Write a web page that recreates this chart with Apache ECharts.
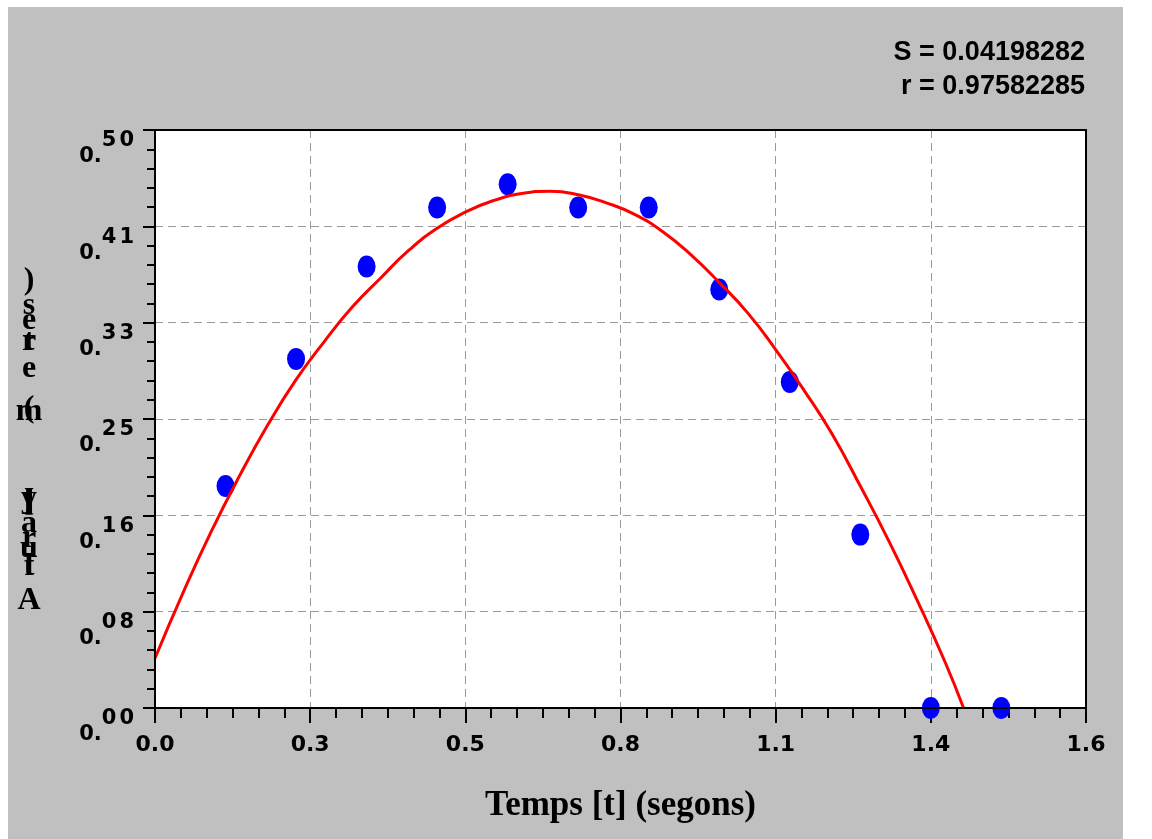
<!DOCTYPE html>
<html>
<head>
<meta charset="utf-8">
<style>
  html, body { margin: 0; padding: 0; background: #ffffff; }
  #chart { width: 1152px; height: 839px; }
</style>
<script src="https://cdn.jsdelivr.net/npm/echarts@6/dist/echarts.min.js"></script>
</head>
<body>
<div id="chart"></div>
<script>
// ---- data ----
const xTickLabels = ['0.0', '0.3', '0.5', '0.8', '1.1', '1.4', '1.6'];
const yTickLabels = ['0.00', '0.08', '0.16', '0.25', '0.33', '0.41', '0.50'];

const measTime   = [0.125, 0.25, 0.375, 0.5, 0.625, 0.75, 0.875, 1.0, 1.125, 1.25, 1.375, 1.5];
const measHeight = [0.192, 0.302, 0.382, 0.433, 0.453, 0.433, 0.433, 0.362, 0.282, 0.150, 0.0, 0.0];

const fitTime   = [0.0, 0.05, 0.10, 0.15, 0.20, 0.25, 0.30, 0.35, 0.40, 0.45, 0.50, 0.55, 0.60, 0.65, 0.70, 0.75, 0.80, 0.85, 0.90, 0.95, 1.00, 1.05, 1.10, 1.15, 1.20, 1.25, 1.30, 1.35, 1.40, 1.433];
const fitHeight = [0.043, 0.100, 0.153, 0.201, 0.245, 0.284, 0.317, 0.347, 0.372, 0.396, 0.415, 0.429, 0.439, 0.445, 0.447, 0.444, 0.437, 0.427, 0.412, 0.392, 0.368, 0.342, 0.310, 0.275, 0.237, 0.192, 0.145, 0.094, 0.040, 0.0];

const statLines = ['S = 0.04198282', 'r = 0.97582285'];
const xTitle = 'Temps [t] (segons)';
const yTitle = 'Altura [y] (metres)';

// ---- layout / style ----
const X_MAX = 1.65, X_STEP = X_MAX / 6;
const Y_MAX = 0.5,  Y_STEP = Y_MAX / 6;
const GRID = { left: 155, right: 66, top: 130, bottom: 131 };
const W = 1152, H = 839;
// stacked (upright) characters of the y title, top to bottom
const yTitleCharsTopDown = yTitle.split('').filter(c => c !== ' ').reverse();
const yTitleCharY = [281, 306, 321, 342, 342, 369, 412, 409, 502, 499, 502, 524, 539, 549, 567, 567, 601];

const chart = echarts.init(document.getElementById('chart'), null, { renderer: 'canvas' });

const FONT_TICK = 'DejaVu Sans';

const graphics = [
  { type: 'rect', z: -10, silent: true,
    shape: { x: 8, y: 7, width: 1115, height: 832 },
    style: { fill: '#c0c0c0' } },
  // plot frame drawn above the dashed grid lines
  { type: 'rect', z: 5, silent: true,
    shape: { x: GRID.left, y: GRID.top,
             width: W - GRID.left - GRID.right, height: H - GRID.top - GRID.bottom },
    style: { fill: null, stroke: '#000', lineWidth: 2 } }
];
statLines.forEach((t, i) => {
  graphics.push({
    type: 'text', z: 10, silent: true,
    x: 1085, y: 53 + i * 34,
    style: { text: t, align: 'right', verticalAlign: 'middle',
             font: 'bold 27px "Liberation Sans", Arial, sans-serif', fill: '#000' }
  });
});
yTitleCharsTopDown.forEach((c, i) => {
  graphics.push({
    type: 'text', z: 10, silent: true,
    x: 29, y: yTitleCharY[i],
    style: { text: c, align: 'center', verticalAlign: 'middle',
             font: 'bold 32px "Liberation Serif", "Times New Roman", serif', fill: '#000' }
  });
});

const richTok = (extra) => Object.assign({
  fontFamily: FONT_TICK, fontWeight: 'bold', fontSize: 21, color: '#000', lineHeight: 16
}, extra);

const option = {
  backgroundColor: '#ffffff',
  animation: false,
  grid: Object.assign({ show: true, backgroundColor: '#ffffff', borderColor: '#000', borderWidth: 2 }, GRID),
  xAxis: {
    type: 'value', min: 0, max: X_MAX, interval: X_STEP,
    name: xTitle, nameLocation: 'middle', nameGap: 80,
    nameTextStyle: { fontFamily: '"Liberation Serif", "Times New Roman", serif',
                     fontWeight: 'bold', fontSize: 35, color: '#000' },
    axisLine: { show: true, onZero: false, lineStyle: { color: '#000', width: 2 } },
    axisTick: { show: true, length: 15, lineStyle: { color: '#000', width: 2 } },
    minorTick: { show: true, splitNumber: 6, length: 10, lineStyle: { color: '#000', width: 2 } },
    splitLine: { show: true, lineStyle: { color: '#9a9a9a', width: 1, type: [8, 5] } },
    axisLabel: {
      fontFamily: FONT_TICK, fontWeight: 'bold', fontSize: 22, color: '#000',
      margin: 26, showMinLabel: true, showMaxLabel: true,
      formatter: v => xTickLabels[Math.round(v / X_STEP)] || ''
    }
  },
  yAxis: {
    type: 'value', min: 0, max: Y_MAX, interval: Y_STEP,
    axisLine: { show: true, onZero: false, lineStyle: { color: '#000', width: 2 } },
    axisTick: { show: true, length: 12, lineStyle: { color: '#000', width: 2 } },
    minorTick: { show: true, splitNumber: 5, length: 8, lineStyle: { color: '#000', width: 2 } },
    splitLine: { show: true, lineStyle: { color: '#9a9a9a', width: 1, type: [8, 5] } },
    axisLabel: {
      fontFamily: FONT_TICK, fontWeight: 'bold', fontSize: 21, color: '#000',
      margin: 21, align: 'right', verticalAlign: 'middle', showMinLabel: true, showMaxLabel: true,
      formatter: v => {
        const s = yTickLabels[Math.round(v / Y_STEP)];
        if (!s) return '';
        return '{a|' + s.slice(0, 2) + '}{b|' + s[2] + '}{c|' + s[3] + '}';
      },
      rich: {
        a: richTok({ padding: [54, 0, 0, 0] }),
        b: richTok({ padding: [38, 0, 16, 0] }),
        c: richTok({ padding: [38, 0, 16, 3] })
      }
    }
  },
  graphic: graphics,
  series: [
    {
      type: 'scatter', z: 2,
      symbol: 'circle', symbolSize: [18, 22],
      itemStyle: { color: '#0000ff', opacity: 1 },
      data: measTime.map((t, i) => [t, measHeight[i]])
    },
    {
      type: 'line', z: 3,
      smooth: true, showSymbol: false, clip: true,
      lineStyle: { color: '#ff0000', width: 3 },
      data: fitTime.map((t, i) => [t, fitHeight[i]])
    }
  ]
};
chart.setOption(option);
</script>
</body>
</html>
